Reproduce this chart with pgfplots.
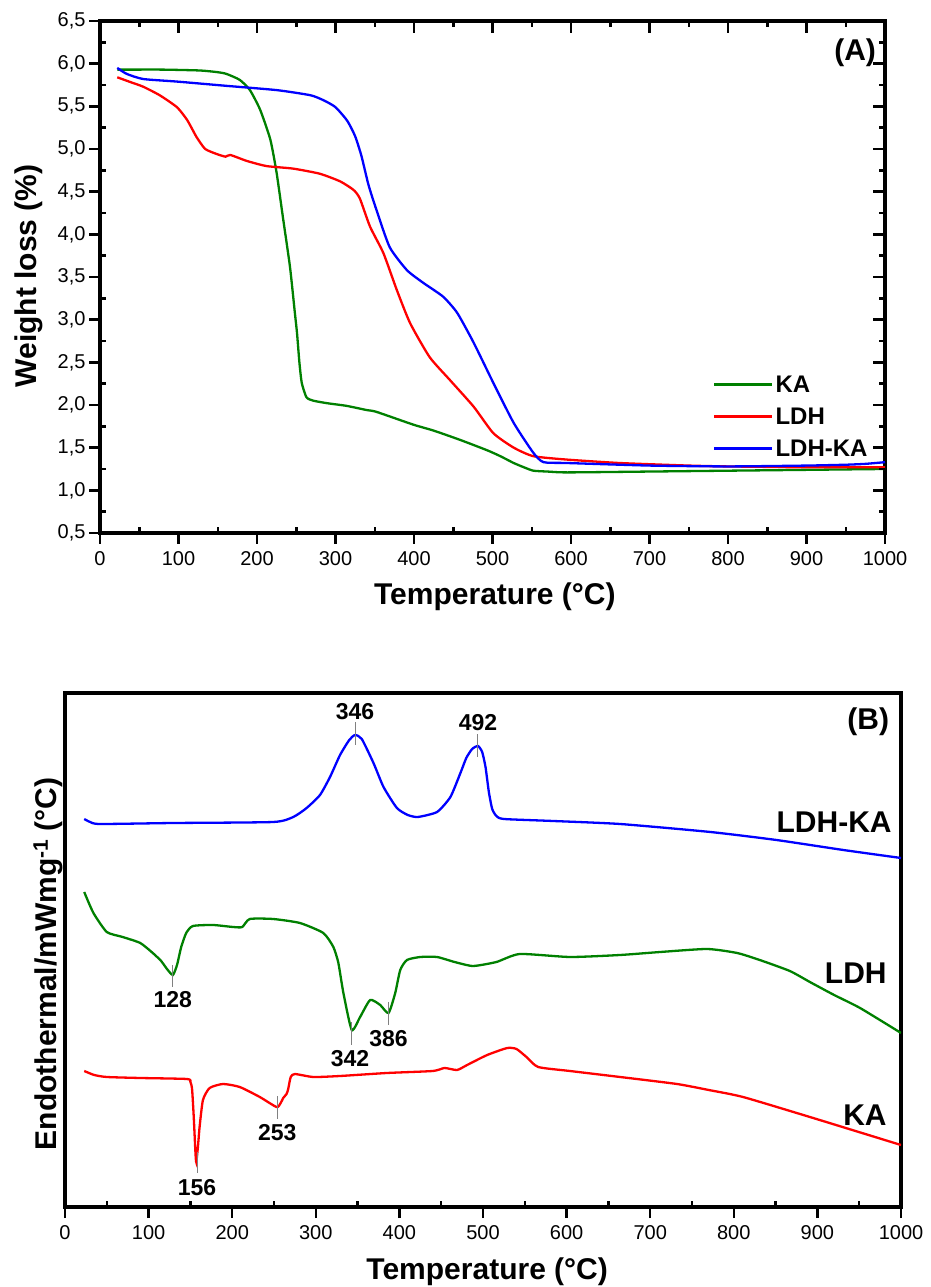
\documentclass[border=0pt]{standalone}
\usepackage{fontspec}
\setmainfont{Liberation Sans}
\usepackage{pgfplots}
\pgfplotsset{compat=1.18}
\definecolor{kgreen}{RGB}{0,128,0}
\definecolor{kred}{RGB}{255,0,0}
\definecolor{kblue}{RGB}{0,0,255}
\pgfplotsset{
  base/.style={scale only axis,
    /pgf/number format/assume math mode=true,
    /pgf/number format/1000 sep={},
    tick label style={font=\fontsize{20}{20}\selectfont},
    label style={font=\fontsize{30}{30}\selectfont\bfseries},
    tick style={black, line width=2.5pt},
    axis line style={line width=3.5pt},
    xmin=0, xmax=1000,
  },
  ovl/.style={scale only axis, axis line style={draw=none},
    xticklabels={}, yticklabels={},
    tick style={black, line width=2.5pt}, tick align=inside,
    xmin=0, xmax=1000},
  curve/.style={line width=2.3pt, smooth, tension=0.35},
}
\begin{document}
\begin{tikzpicture}
\useasboundingbox (0pt,0pt) rectangle (931pt,1287pt);
%================ Panel A =================
\begin{axis}[base, at={(100pt,754pt)}, anchor=south west, width=785pt, height=512pt,
  ymin=0.5, ymax=6.5,
  xtick={0,100,...,1000}, ytick={0.5,1,1.5,2,2.5,3,3.5,4,4.5,5,5.5,6,6.5},
  yticklabel style={/pgf/number format/.cd, fixed, fixed zerofill, precision=1, use comma},
  xticklabel style={yshift=-4pt},
  tick pos=left, tick align=outside, major tick length=11pt,
  xlabel={Temperature (°C)}, ylabel={Weight loss (\%)},
  xlabel style={at={(axis description cs:0.503,-0.125)}, anchor=center},
  ylabel style={at={(axis description cs:-0.0803,0.502)}, anchor=base},
  legend style={draw=none, fill=none, at={(axis description cs:0.78,0.311)}, anchor=north west,
    font=\fontsize{24}{24}\selectfont\bfseries, row sep=10pt, inner sep=0pt},
  legend cell align=left,
  legend image code/.code={\draw[#1, line width=3pt] (0pt,0pt) -- (58pt,0pt);},
]
\addplot[kgreen, curve] coordinates {(22,5.93)(38,5.93)(80,5.93)(127,5.92)(150,5.90)(161,5.88)(178,5.81)(191,5.69)(204,5.46)(217,5.11)(225,4.72)(233,4.20)(242,3.62)(248,3.10)(251,2.84)(254,2.50)(257,2.26)(263,2.09)(272,2.05)(290,2.02)(314,1.99)(340,1.94)(352,1.92)(399,1.77)(425,1.70)(459,1.59)(493,1.47)(510,1.40)(527,1.32)(540,1.27)(552,1.23)(570,1.22)(595,1.21)(700,1.22)(800,1.23)(900,1.24)(1000,1.25)};
\addlegendentry{KA}
\addplot[kred, curve] coordinates {(22,5.84)(40,5.78)(55,5.73)(76,5.63)(98,5.49)(111,5.34)(123,5.14)(134,5.00)(149,4.94)(160,4.91)(166,4.93)(187,4.86)(212,4.80)(246,4.77)(280,4.71)(306,4.62)(323,4.52)(331,4.42)(344,4.09)(361,3.78)(378,3.35)(395,2.96)(420,2.56)(446,2.29)(476,1.98)(501,1.67)(527,1.50)(552,1.40)(595,1.36)(662,1.32)(750,1.29)(800,1.28)(900,1.27)(1000,1.27)};
\addlegendentry{LDH}
\addplot[kblue, curve] coordinates {(22,5.95)(34,5.88)(55,5.82)(98,5.79)(161,5.74)(225,5.69)(268,5.63)(285,5.57)(300,5.49)(315,5.33)(325,5.15)(333,4.92)(342,4.58)(352,4.29)(369,3.85)(391,3.58)(412,3.43)(437,3.27)(455,3.08)(476,2.73)(501,2.26)(527,1.79)(552,1.44)(565,1.33)(595,1.32)(700,1.29)(800,1.28)(900,1.29)(950,1.30)(975,1.31)(1000,1.33)};
\addlegendentry{LDH-KA}
\node[anchor=east, font=\fontsize{30}{30}\selectfont\bfseries] at (axis cs:993,6.125) {(A)};
\end{axis}
\begin{axis}[ovl, at={(100pt,754pt)}, anchor=south west, width=785pt, height=512pt,
  ymin=0.5, ymax=6.5, xtick={50,150,...,950}, ytick={0.75,1.25,...,6.25},
  tick pos=both, major tick length=6pt]
\end{axis}
\begin{axis}[ovl, at={(100pt,754pt)}, anchor=south west, width=785pt, height=512pt,
  ymin=0.5, ymax=6.5, xtick={0,100,...,1000}, ytick={0.5,1,1.5,2,2.5,3,3.5,4,4.5,5,5.5,6,6.5},
  tick pos=right, major tick length=12pt]
\end{axis}
%================ Panel B =================
\begin{axis}[base, at={(65pt,80pt)}, anchor=south west, width=836pt, height=514pt,
  ymin=0, ymax=514,
  xtick={0,100,...,1000}, ytick=\empty,
  xticklabel style={yshift=-4pt},
  tick pos=left, tick align=outside, major tick length=11pt,
  xlabel={Temperature (°C)}, ylabel={Endothermal/mWmg\textsuperscript{-1} (°C)},
  xlabel style={at={(axis description cs:0.505,-0.1265)}, anchor=center},
  ylabel style={at={(axis description cs:-0.0096,0.473)}, anchor=base},
]
\addplot[kblue, curve] coordinates {(23,388)(30,385)(42,383)(130,384)(249,385)(273,390)(289,399)(305,412)(317,430)(329,452)(340,467)(347,472)(355,468)(369,444)(381,420)(397,399)(410,392)(422,390)(445,395)(461,410)(473,434)(480,449)(487,458)(494,461)(499,455)(503,440)(507,415)(511,398)(516,391)(525,388)(584,386)(664,383)(772,375)(851,367)(931,357)(1000,349)};
\addplot[kgreen, curve] coordinates {(23,315)(34,294)(50,275)(69,270)(90,264)(105,254)(115,246)(122,238)(129,232)(134,242)(139,260)(145,274)(153,281)(177,282)(201,280)(212,280)(221,288)(249,288)(281,284)(309,274)(321,260)(327,244)(333,214)(343,177)(353,190)(365,207)(377,202)(387,194)(395,214)(401,237)(409,247)(425,250)(445,250)(466,245)(488,241)(516,245)(544,253)(604,250)(664,252)(712,255)(768,258)(804,254)(831,247)(867,236)(891,225)(920,212)(951,199)(1000,174)};
\addplot[kred, curve] coordinates {(23,136)(35,132)(50,130)(90,129)(146,128)(150,125)(152,118)(154,90)(156,55)(157,45)(159,60)(161,80)(165,107)(173,119)(189,123)(209,120)(233,110)(253,100)(258,104)(261,109)(265,113)(267,118)(270,130)(275,133)(297,130)(329,131)(385,134)(440,136)(454,139)(469,137)(481,142)(505,152)(529,159)(540,158)(552,150)(566,140)(604,136)(664,130)(732,123)(770,117)(811,110)(891,90)(1000,62)};
% peak markers
\addplot[gray, line width=1pt] coordinates {(347,462)(347,485)};
\addplot[gray, line width=1pt] coordinates {(494,450)(494,473)};
\addplot[gray, line width=1pt] coordinates {(129,220)(129,242)};
\addplot[gray, line width=1pt] coordinates {(158,34)(158,55)};
\addplot[gray, line width=1pt] coordinates {(254,88)(254,111)};
\addplot[gray, line width=1pt] coordinates {(343,162)(343,185)};
\addplot[gray, line width=1pt] coordinates {(387,182)(387,205)};
\begin{scope}[every node/.style={font=\fontsize{23}{23}\selectfont\bfseries}]
\node at (axis cs:347,495) {346};
\node at (axis cs:494,484) {492};
\node at (axis cs:129,207) {128};
\node at (axis cs:158,19) {156};
\node at (axis cs:254,74) {253};
\node at (axis cs:341,148) {342};
\node at (axis cs:387,168) {386};
\end{scope}
\begin{scope}[every node/.style={font=\fontsize{30}{30}\selectfont\bfseries, anchor=east}]
\node at (axis cs:993,385) {LDH-KA};
\node at (axis cs:987,234) {LDH};
\node at (axis cs:987,92) {KA};
\node at (axis cs:990,485) {(B)};
\end{scope}
\end{axis}
\begin{axis}[ovl, at={(65pt,80pt)}, anchor=south west, width=836pt, height=514pt,
  ymin=0, ymax=514, xtick={50,150,...,950}, ytick=\empty,
  tick pos=left, major tick length=6pt]
\end{axis}
\end{tikzpicture}
\end{document}
